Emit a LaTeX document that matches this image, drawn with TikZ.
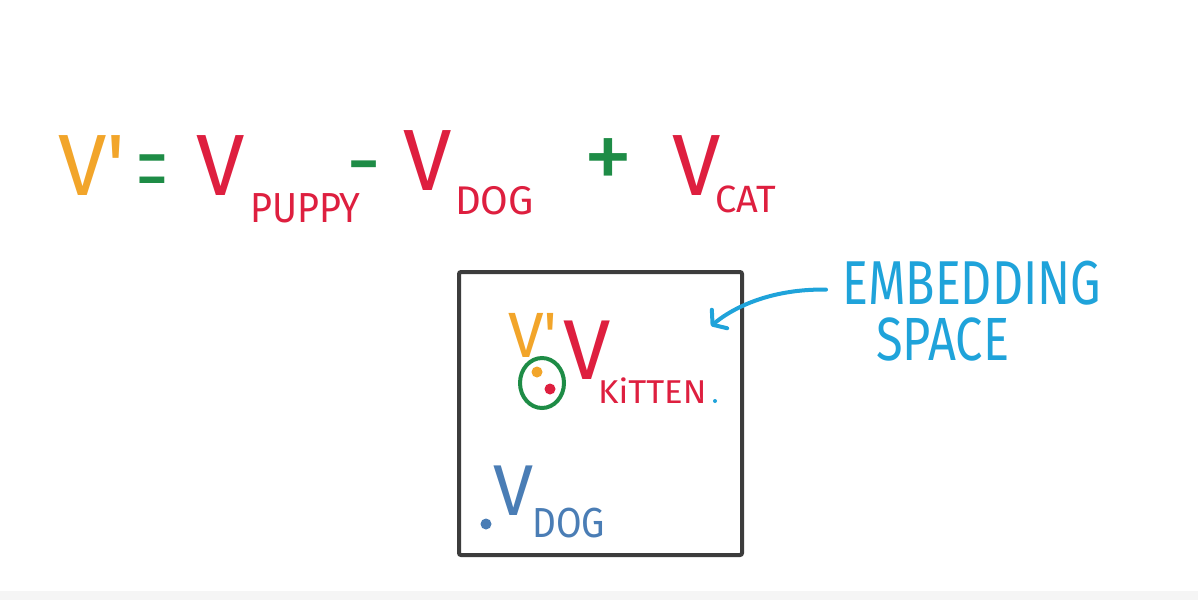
\documentclass[tikz,border=0pt]{standalone}
\usepackage{fontspec}
\setmainfont{Fira Sans}
\newfontfamily\eqfont{Liberation Sans}
\usetikzlibrary{arrows.meta,shapes.geometric}
\definecolor{vorange}{HTML}{F2A52A}
\definecolor{vred}{HTML}{DE1F3F}
\definecolor{vgreen}{HTML}{1E8C46}
\definecolor{vblue}{HTML}{4A7DB5}
\definecolor{eblue}{HTML}{1FA3DA}
\definecolor{boxgray}{HTML}{3C3C3C}
\begin{document}
\begin{tikzpicture}[x=1pt,y=-1pt,
  txt/.style={inner sep=0pt, anchor=base west},
  fs/.style={font=\fontsize{#1}{#1}\selectfont},
  dot/.style={circle, fill=#1, inner sep=0pt, minimum size=11pt}]
\useasboundingbox[fill=white] (0,0) rectangle (1198,600);
\fill[black!4] (0,591) rectangle (1198,600);
% equation
\node[txt, fs=87, text=vorange] (vp) at (58,195) {V\textquotesingle};
\node[inner sep=0pt, text=vgreen] (eq) at (152,177) {\fontsize{85}{85}\eqfont\scalebox{0.6}[1.05]{=}};
\node[txt, fs=87, text=vred] (v1) at (196,195) {V};
\node[txt, fs=42, text=vred] (s1) at (250,222) {\scalebox{0.9}[1]{PUPPY}};
\node[inner sep=0pt, fs=87, text=vgreen] (mi) at (364,176) {-};
\node[txt, fs=87, text=vred] (v2) at (403,190) {V};
\node[txt, fs=40, text=vred] (s2) at (455,214) {DOG};
\node[inner sep=0pt, fs=100, text=vgreen] (pl) at (608,165) {+};
\node[txt, fs=87, text=vred] (v3) at (672,195) {V};
\node[txt, fs=38, text=vred] (s3) at (715,212) {CAT};
% embedding space box
\node[draw=boxgray, line width=4pt, rounded corners=2pt, minimum width=283pt, minimum height=283pt, inner sep=0pt] (space) at (600.5,413.5) {};
\node[txt, fs=64, text=vorange] (vp2) at (508,357) {V\textquotesingle};
\node[ellipse, draw=vgreen, line width=4pt, minimum width=44pt, minimum height=50pt, inner sep=0pt] (cl) at (542,383) {};
\node[dot=vorange] (d1) at (537,372) {};
\node[dot=vred] (d2) at (550,389) {};
\node[txt, fs=85, text=vred] (vk) at (563,379) {V};
\node[txt, fs=33, text=vred] (sk) at (598,403) {\scalebox{1.05}[1]{KiTTEN}};
\node[circle, fill=eblue, inner sep=0pt, minimum size=4pt] (d3) at (715,401) {};
\node[dot=vblue] (d4) at (486,524) {};
\node[txt, fs=72, text=vblue] (vd) at (493,515) {V};
\node[txt, fs=42, text=vblue] (sd) at (532,537) {\scalebox{0.88}[1]{DOG}};
% label and arrow
\node[txt, fs=62, text=eblue] (lab) at (842,304) {\scalebox{0.78}[1]{EMBEDDING}};
\node[txt, fs=61, text=eblue] (lab2) at (876,360) {\scalebox{0.8}[1]{SPACE}};
\coordinate (tip) at (711,326);
\draw[eblue, line width=4pt, line cap=round, -{Straight Barb[length=9pt,width=24pt,round]}]
  (lab.west) ++(-16,7) .. controls +(-45,-1) and (740,302) .. (tip);
\end{tikzpicture}
\end{document}
